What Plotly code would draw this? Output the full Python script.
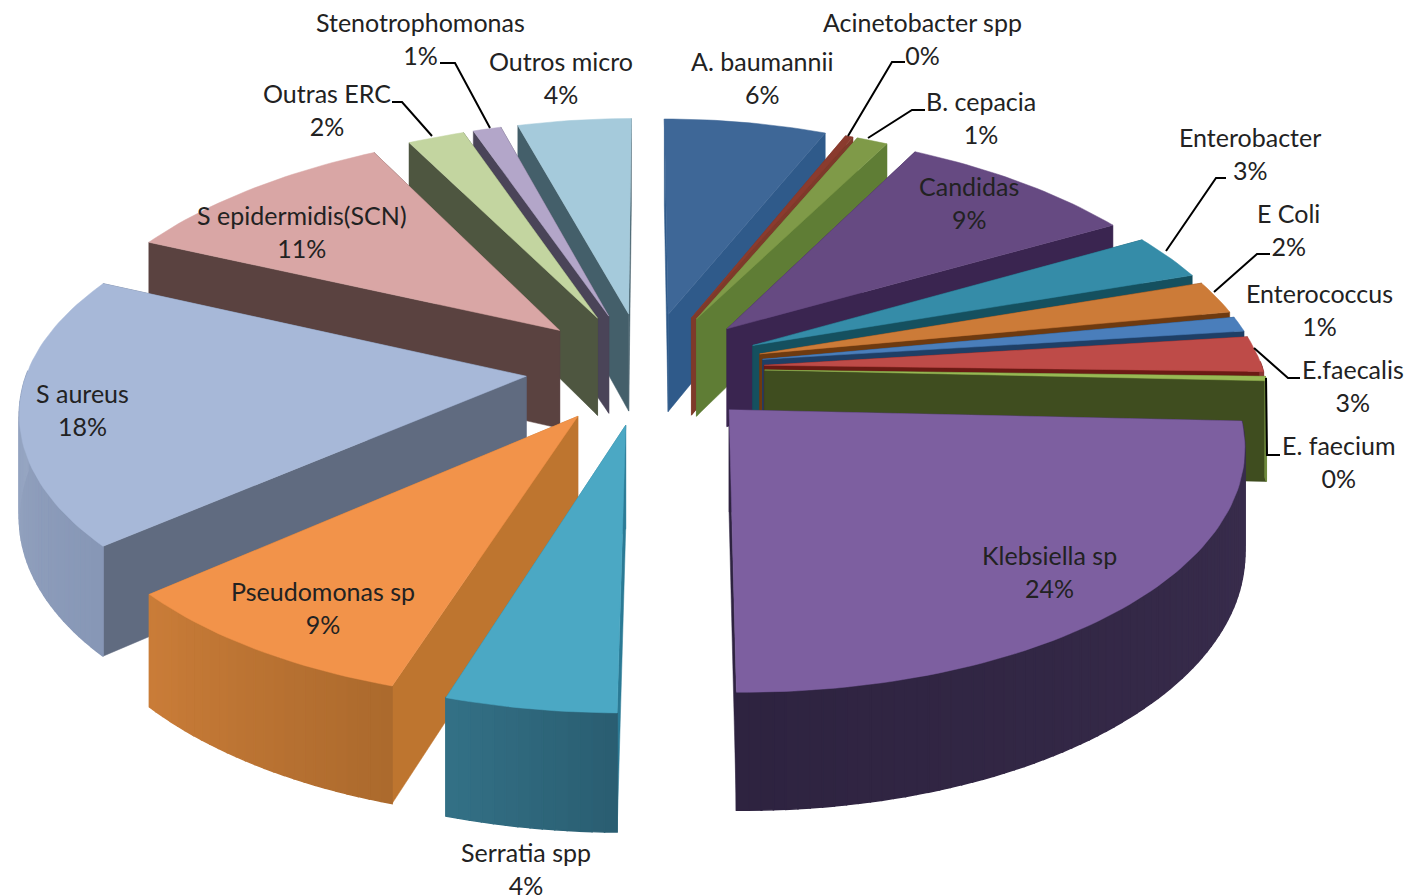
import math
import plotly.graph_objects as go

# ---- data (share of isolates, %) ----
names = ["A. baumannii", "Acinetobacter spp", "B. cepacia", "Candidas", "Enterobacter", "E Coli",
         "Enterococcus", "E.faecalis", "E. faecium", "Klebsiella sp", "Serratia spp", "Pseudomonas sp",
         "S aureus", "S epidermidis(SCN)", "Outras ERC", "Stenotrophomonas", "Outros micro"]
values = [6.4, 0.3, 1.2, 8.9, 3.0, 2.2, 1.0, 2.4, 0.3, 24.4, 4.7, 8.7, 18.2, 10.4, 2.2, 1.1, 4.5]
percent_labels = [6, 0, 1, 9, 3, 2, 1, 3, 0, 24, 4, 9, 18, 11, 2, 1, 4]
top_colors = ["#3E6797", "#8A3B2E", "#7F9A48", "#664A82", "#358CA8", "#CC7B38", "#4A7EBB", "#BE4B48", "#98B954",
              "#7D5FA0", "#4BA8C4", "#F2934A", "#A7B8D8", "#D9A6A5", "#C3D5A0", "#B3A6C9", "#A5CADB"]
wall_left = ["#2F4F75", "#6A2C2A", "#5F7436", "#4A3560", "#27687D", "#98592A", "#37608F", "#8C3735", "#6F8A3D",
             "#2E2340", "#337085", "#C97C38", "#9EADC8", "#A47E7D", "#93A27A", "#877C99", "#7D99A6"]
wall_right = ["#2F4F75", "#6A2C2A", "#5F7436", "#4A3560", "#27687D", "#98592A", "#37608F", "#8C3735", "#6F8A3D",
              "#3A2E4E", "#2A5E72", "#AC6A2D", "#8797B6", "#A47E7D", "#93A27A", "#877C99", "#7D99A6"]
cut_colors = ["#2F5A8A", "#7E3A2A", "#5F7D35", "#3A2550", "#15505F", "#6E3A10", "#1F3F66", "#6B1A14", "#3F4D1F",
              "#2E2340", "#2B7A95", "#BE752F", "#606B80", "#5A4240", "#4E5640", "#4A4458", "#445F6A"]

# label text anchor positions on the page
label_pos = [(762, 77), (922, 38), (981, 117), (969, 202), (1250, 153), (1288, 229), (1319, 309), (1353, 385),
             (1339, 461), (1049, 571), (526, 868), (323, 607), (82, 409), (302, 231), (327, 109), (420, 38), (561, 77)]
leaders = [None,
           [(905, 62), (892, 62), (848, 136)],
           [(925, 110), (912, 110), (868, 138)],
           None,
           [(1226, 178), (1216, 178), (1166, 251)],
           [(1270, 254), (1257, 254), (1214, 292)],
           None,
           [(1300, 378), (1288, 378), (1254, 348)],
           [(1280, 455), (1267, 455), (1266, 378)],
           None, None, None, None, None,
           [(392, 102), (402, 102), (432, 136)],
           [(440, 63), (455, 63), (490, 128)],
           None]

# projection settings
CX, CY, RX, RY, PERSP, DEPTH, EXPLODE = 645, 368, 498, 234, 0.13, 100, 0.24


def project(x, y, z=0.0):
    s = 1 / (1 - PERSP * y)
    squeeze = 1 - 0.04 * y * y if y < 0 else 1.0
    return CX + RX * x * s * squeeze, CY + RY * y * s + DEPTH * z * s


def mix(c1, c2, t):
    a = [int(c1[j:j + 2], 16) for j in (1, 3, 5)]
    b = [int(c2[j:j + 2], 16) for j in (1, 3, 5)]
    return "#%02X%02X%02X" % tuple(round(p + (q - p) * t) for p, q in zip(a, b))


total = sum(values)
fig = go.Figure()
slices = []
cum = 0.0
for i, v in enumerate(values):
    a0, a1 = 2 * math.pi * cum / total, 2 * math.pi * (cum + v) / total
    cum += v
    mid = (a0 + a1) / 2
    ox, oy = EXPLODE * math.sin(mid), -EXPLODE * math.cos(mid)
    n = max(3, int(v * 3))
    angles = [a0 + (a1 - a0) * k / n for k in range(n + 1)]
    rim = [(ox + math.sin(t), oy - math.cos(t)) for t in angles]
    slices.append((oy - math.cos(mid) * 0.5, i, ox, oy, rim, angles))


def poly(points, color, name, width=0.5):
    xs, ys = zip(*[project(*p) for p in points])
    fig.add_trace(go.Scatter(x=list(xs) + [xs[0]], y=list(ys) + [ys[0]], mode="lines", fill="toself",
                             fillcolor=color, line=dict(color=color, width=width), name=name,
                             hoverinfo="name", showlegend=False))


for _, i, ox, oy, rim, angles in sorted(slices):
    a, b = rim[0], rim[-1]
    faces = [([(ox, oy, 0), a + (0,), a + (1,), (ox, oy, 1)], (oy + a[1]) / 2),
             ([(ox, oy, 0), b + (0,), b + (1,), (ox, oy, 1)], (oy + b[1]) / 2)]
    for pts, _y in sorted(faces, key=lambda f: f[1]):
        poly(pts, cut_colors[i], names[i])
    for k in range(len(rim) - 1):
        if math.cos((angles[k] + angles[k + 1]) / 2) < 0.02:
            t = k / max(1, len(rim) - 2)
            p, q = rim[k], rim[k + 1]
            poly([p + (0,), q + (0,), q + (1,), p + (1,)], mix(wall_right[i], wall_left[i], t), names[i], 1.5)
    poly([(ox, oy, 0)] + [p + (0,) for p in rim], top_colors[i], names[i])

for seg in leaders:
    if seg:
        fig.add_trace(go.Scatter(x=[p[0] for p in seg], y=[p[1] for p in seg], mode="lines",
                                 line=dict(color="#000000", width=2), hoverinfo="skip", showlegend=False))

for nm, pct, (x, y) in zip(names, percent_labels, label_pos):
    fig.add_annotation(x=x, y=y, text=f"{nm}<br>{pct}%", showarrow=False, align="center",
                       font=dict(family="Lato", size=25, color="#222222"))

fig.update_xaxes(range=[0, 1405], visible=False)
fig.update_yaxes(range=[895, 0], visible=False)
fig.update_layout(width=1405, height=895, margin=dict(l=0, r=0, t=0, b=0), plot_bgcolor="white",
                  paper_bgcolor="white", showlegend=False)
fig.write_html("out.html", config={"displayModeBar": False},
               post_script="document.body.style.margin='0';document.documentElement.style.overflow='hidden';")
